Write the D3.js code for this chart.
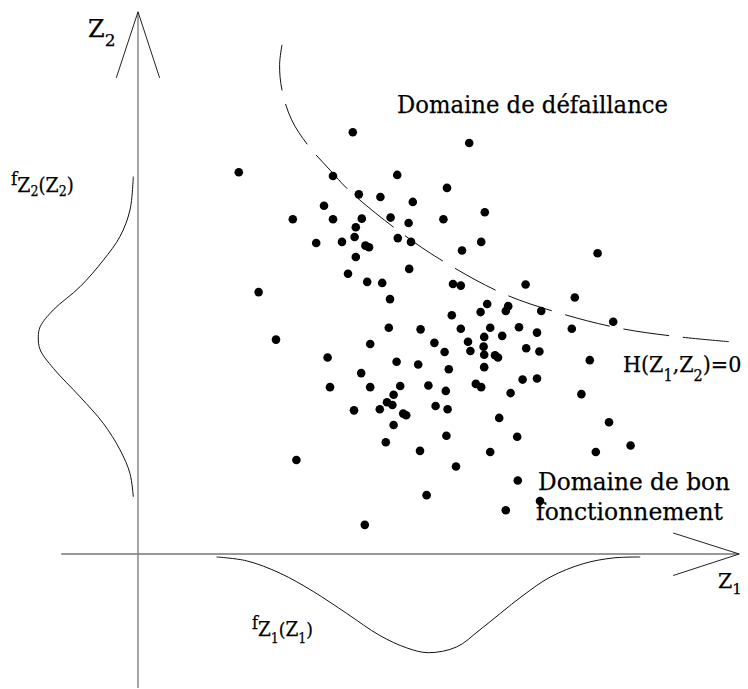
<!DOCTYPE html>
<html>
<head>
<meta charset="utf-8">
<script src="https://cdn.jsdelivr.net/npm/d3@7"></script>
<style>
  body { margin: 0; background: #fff; }
  svg text { font-family: "DejaVu Serif", "Liberation Serif", serif; fill: #000; stroke: #000; stroke-width: 0.25px; }
  svg text.cond { font-family: "DejaVu Serif Condensed", "DejaVu Serif", serif; font-stretch: condensed; }
</style>
</head>
<body>
<div id="chart"></div>
<script>
// sample points (Z1, Z2)
var z1 = [3.58,1.68,3.25,4.32,3.68,4.04,4.58,3.10,2.58,3.25,
          3.73,4.21,4.51,3.63,3.61,4.33,4.55,2.97,3.40,3.79,
          3.85,3.63,4.52,3.50,3.82,4.07,4.20,2.01,5.52,5.15,
          5.78,5.09,5.72,5.40,7.66,5.25,5.38,6.46,7.28,5.82,
          5.71,6.17,6.13,6.72,5.23,7.92,2.30,4.18,4.71,3.87,
          4.94,5.11,3.16,4.31,4.67,5.18,3.72,3.20,3.87,4.37,
          4.84,5.13,4.26,4.15,4.24,3.60,4.03,4.96,5.16,4.42,
          4.47,4.26,4.13,4.70,5.14,2.64,4.81,3.78,5.38,5.87,
          6.35,7.23,5.77,6.07,6.65,5.50,5.76,5.54,5.77,5.95,
          6.00,6.47,6.69,7.53,5.77,5.63,5.72,6.21,6.41,6.65,
          7.39,6.02,7.85,6.32,8.21,5.87,7.63,5.30,6.33,6.13,6.70];
var z2 = [7.81,7.07,7.00,7.02,6.66,6.61,6.52,6.45,6.20,6.20,
          6.21,6.23,6.13,6.05,5.87,5.85,5.78,5.76,5.78,5.71,
          5.68,5.50,5.28,5.19,5.04,5.02,4.72,4.85,7.61,6.78,
          6.33,6.20,5.78,5.62,5.57,5.00,4.97,4.99,4.75,4.63,
          4.48,4.59,4.50,4.50,4.42,4.30,3.97,4.19,4.16,3.89,
          3.91,3.74,3.64,3.56,3.51,3.42,3.35,3.09,3.09,3.11,
          3.12,3.02,2.95,2.81,2.76,2.66,2.68,2.74,2.68,2.60,
          2.57,2.39,2.07,1.91,2.19,1.74,1.09,0.54,4.17,4.19,
          4.20,4.17,4.02,4.04,4.10,3.93,3.84,3.76,3.69,3.68,
          3.64,3.81,3.75,3.59,3.46,3.15,3.09,2.98,3.23,3.25,
          2.96,2.52,2.44,2.17,2.01,1.89,1.89,1.62,1.36,0.81,0.98];

// limit state H(Z1,Z2)=0
var limitZ1 = [2.40,2.36,2.40,2.56,2.84,3.20,3.52,4.31,5.03,6.07,7.03,8.03,9.03,9.87];
var limitZ2 = [9.43,9.06,8.59,8.04,7.56,7.11,6.73,6.01,5.46,4.83,4.46,4.18,4.02,3.93];

// density of Z2 (drawn left of the Z2 axis)
var densZ2 = [6.99,6.37,5.88,5.44,4.95,4.52,4.21,4.02,3.78,3.44,2.91,2.42,1.93,1.49,1.06];
var densF2 = [0,0.035,0.14,0.316,0.56,0.842,0.98,1.0,0.98,0.842,0.56,0.316,0.14,0.035,0];

// density of Z1 (drawn below the Z1 axis)
var densZ1 = [1.31,1.81,2.37,2.92,3.48,4.03,4.48,4.84,5.31,5.70,6.40,6.87,7.42,7.92,8.37];
var densF1 = [0,0.04,0.17,0.36,0.59,0.82,0.95,1.00,0.94,0.76,0.41,0.21,0.07,0.01,0];

// axis extents
var axisZ1 = [-1.28, 10.02];
var axisZ2 = [-2.48, 10.04];

var width = 748, height = 689;

var x = d3.scaleLinear().domain([0, 10]).range([138, 738]);
var y = d3.scaleLinear().domain([0, 10]).range([554, 14]);

// density scales (amplitude of the bells)
var fx = d3.scaleLinear().domain([0, 1]).range([x(0) - 4.7, x(0) - 99.7]);
var fy = d3.scaleLinear().domain([0, 1]).range([y(0) + 3, y(0) + 98.7]);

var svg = d3.select("#chart").append("svg")
    .attr("width", width)
    .attr("height", height);

// axes
svg.append("line")
    .attr("x1", x(axisZ1[0])).attr("x2", x(axisZ1[1]))
    .attr("y1", y(0)).attr("y2", y(0))
    .attr("stroke", "#333").attr("stroke-width", 1.1);
svg.append("line")
    .attr("x1", x(0)).attr("x2", x(0))
    .attr("y1", y(axisZ2[0])).attr("y2", y(axisZ2[1]))
    .attr("stroke", "#808080").attr("stroke-width", 1.4);

// open arrow heads
var tipX = [x(axisZ1[1]), y(0)], tipY = [x(0), y(axisZ2[1])];
svg.append("path")
    .attr("d", "M" + (tipX[0] - 66) + "," + (tipX[1] - 21) + "L" + tipX[0] + "," + tipX[1] +
               "L" + (tipX[0] - 66) + "," + (tipX[1] + 21.5))
    .attr("fill", "none").attr("stroke", "#222").attr("stroke-width", 1);
svg.append("path")
    .attr("d", "M" + (tipY[0] - 21.7) + "," + (tipY[1] + 66) + "L" + tipY[0] + "," + tipY[1] +
               "L" + (tipY[0] + 21.6) + "," + (tipY[1] + 66))
    .attr("fill", "none").attr("stroke", "#222").attr("stroke-width", 1);

// density curves
var bell2 = d3.line()
    .x(function(d) { return fx(d[1]); })
    .y(function(d) { return y(d[0]); })
    .curve(d3.curveCatmullRom);
svg.append("path")
    .datum(d3.zip(densZ2, densF2))
    .attr("d", bell2)
    .attr("fill", "none").attr("stroke", "#111").attr("stroke-width", 1);

var bell1 = d3.line()
    .x(function(d) { return x(d[0]); })
    .y(function(d) { return fy(d[1]); })
    .curve(d3.curveCatmullRom);
svg.append("path")
    .datum(d3.zip(densZ1, densF1))
    .attr("d", bell1)
    .attr("fill", "none").attr("stroke", "#111").attr("stroke-width", 1);

// limit state, dashed
var limit = d3.line()
    .x(function(d) { return x(d[0]); })
    .y(function(d) { return y(d[1]); })
    .curve(d3.curveCatmullRom);
svg.append("path")
    .datum(d3.zip(limitZ1, limitZ2))
    .attr("d", limit)
    .attr("fill", "none").attr("stroke", "#111").attr("stroke-width", 1)
    .attr("stroke-dasharray", "46,14");

// points
svg.selectAll(".pt")
    .data(d3.zip(z1, z2))
  .enter().append("circle")
    .attr("class", "pt")
    .attr("cx", function(d) { return x(d[0]); })
    .attr("cy", function(d) { return y(d[1]); })
    .attr("r", 4.3)
    .attr("fill", "#000");

// labels: parts = [text, font size, baseline offset, dx]
function label(px, py, parts, len, cls) {
  var t = svg.append("text").attr("x", px).attr("y", py);
  if (cls) t.attr("class", cls);
  if (len) t.attr("textLength", len).attr("lengthAdjust", "spacingAndGlyphs");
  parts.forEach(function(p) {
    t.append("tspan")
      .attr("y", py + (p[2] || 0))
      .attr("dx", p[3] || 0)
      .style("font-size", p[1] + "px")
      .text(p[0]);
  });
  return t;
}

label(88, 37, [["Z", 24], ["2", 17, 9]]);
label(11, 185, [["f", 19], ["Z", 21, 7], ["2", 14, 11], ["(", 20, 7], ["Z", 21, 7], ["2", 14, 11], [")", 20, 7]], null, "cond");
label(397, 113, [["Domaine de défaillance", 24.5]], 271);
label(623, 372, [["H(Z", 23], ["1", 16, 9], [",Z", 23, 0], ["2", 16, 9], [")=0", 23, 0]], null, "cond");
label(538, 490, [["Domaine de bon", 25]], 192);
label(536, 520, [["fonctionnement", 25]], 187);
label(718, 588, [["Z", 20.5], ["1", 15, 6]]);
label(252, 629, [["f", 18], ["Z", 20.5, 7], ["1", 14, 14], ["(", 19, 7], ["Z", 20.5, 7], ["1", 14, 14], [")", 19, 7]], null, "cond");
</script>
</body>
</html>
